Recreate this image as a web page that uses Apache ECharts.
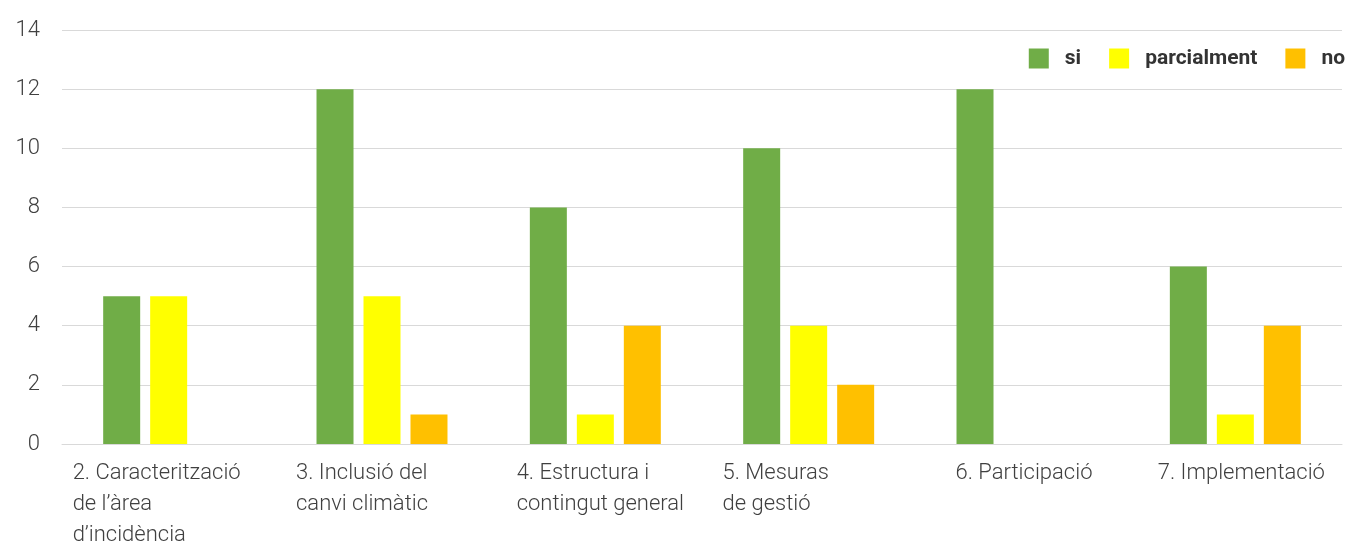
<!DOCTYPE html>
<html>
<head>
<meta charset="utf-8">
<script src="https://cdn.jsdelivr.net/npm/echarts@6/dist/echarts.min.js"></script>
<style>html,body{margin:0;padding:0;background:#fff}#c{width:1348px;height:541px}</style>
</head>
<body>
<div id="c"></div>
<script>
const categories = [
  "2. Caracterització\nde l\u2019àrea\nd\u2019incidència",
  "3. Inclusió del\ncanvi climàtic",
  "4. Estructura i\ncontingut general",
  "5. Mesuras\nde gestió",
  "6. Participació",
  "7. Implementació"
];
const seriesNames = ["si", "parcialment", "no"];
const siValues = [5, 12, 8, 10, 12, 6];
const parcialmentValues = [5, 5, 1, 4, 0, 1];
const noValues = [0, 1, 4, 2, 0, 4];
const yTicks = { min: 0, max: 14, interval: 2 };
const colors = ["#70AD47", "#FFFF00", "#FFC000"];
// layout only: horizontal nudge of each category label (px)
const labelNudge = [-12, -20, 5, -33, 2, 6];

const font = "Roboto, 'DejaVu Sans', sans-serif";
const chart = echarts.init(document.getElementById('c'), null, { renderer: 'canvas' });
const mk = (name, data, color) => ({
  name, type: 'bar', data, barWidth: 37, barGap: '27%',
  itemStyle: { color }, animation: false
});
const catData = categories.map((c, i) => {
  const d = labelNudge[i];
  return { value: c, textStyle: { padding: d < 0 ? [0, -2 * d, 0, 0] : [0, 0, 0, 2 * d] } };
});
chart.setOption({
  animation: false,
  textStyle: { fontFamily: font },
  legend: {
    right: -2, top: 43, itemWidth: 20, itemHeight: 20, itemGap: 28,
    icon: 'rect',
    data: seriesNames,
    textStyle: { fontFamily: font, fontSize: 21, fontWeight: 'bold', color: '#333', padding: [0, 0, 0, 11] }
  },
  grid: { left: 62, right: 6, top: 30, bottom: 97, containLabel: false, outerBoundsMode: 'none' },
  xAxis: {
    type: 'category', data: catData,
    axisLine: { lineStyle: { color: '#d9d9d9', width: 1 } },
    axisTick: { show: false },
    axisLabel: {
      interval: 0, margin: 14, color: '#404040', fontSize: 22, lineHeight: 31,
      formatter: v => v.split('\n').map(s => '{a|' + s + '}').join('\n'),
      rich: { a: { align: 'left', fontSize: 22, fontWeight: 300, lineHeight: 31, color: '#404040', fontFamily: font } }
    }
  },
  yAxis: {
    type: 'value', min: yTicks.min, max: yTicks.max, interval: yTicks.interval,
    axisLine: { show: false }, axisTick: { show: false },
    splitLine: { lineStyle: { color: '#d9d9d9', width: 1 } },
    axisLabel: { margin: 22, color: '#404040', fontSize: 22, fontWeight: 300 }
  },
  series: [
    mk(seriesNames[0], siValues, colors[0]),
    mk(seriesNames[1], parcialmentValues, colors[1]),
    mk(seriesNames[2], noValues, colors[2])
  ]
});
</script>
</body>
</html>
